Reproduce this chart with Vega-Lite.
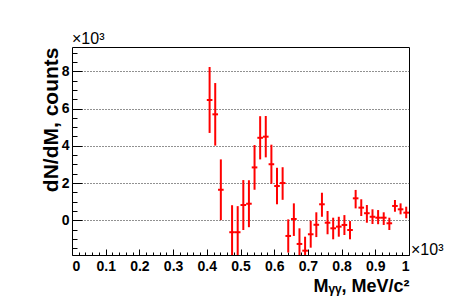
{
  "$schema": "https://vega.github.io/schema/vega-lite/v6.json",
  "width": 337,
  "height": 208,
  "autosize": {"type": "none"},
  "padding": {"left": 72, "top": 47, "right": 46, "bottom": 53},
  "background": "white",
  "config": {
    "view": {"stroke": "black", "strokeWidth": 1},
    "font": "Liberation Sans",
    "axis": {"domain": false, "tickColor": "black", "labelColor": "black", "titleColor": "black", "labelFont": "Liberation Sans", "titleFont": "Liberation Sans"}
  },
  "data": {"values": [
    {"m": 0.40833, "m_lo": 0.4, "m_hi": 0.41667, "n": 6.46, "n_lo": 4.69, "n_hi": 8.23},
    {"m": 0.425, "m_lo": 0.41667, "m_hi": 0.43333, "n": 5.69, "n_lo": 4.01, "n_hi": 7.37},
    {"m": 0.44167, "m_lo": 0.43333, "m_hi": 0.45, "n": 1.64, "n_lo": 0.01, "n_hi": 3.27},
    {"m": 0.475, "m_lo": 0.46667, "m_hi": 0.48333, "n": -0.64, "n_lo": -2.09, "n_hi": 0.81},
    {"m": 0.49167, "m_lo": 0.48333, "m_hi": 0.5, "n": -0.64, "n_lo": -2.04, "n_hi": 0.76},
    {"m": 0.50833, "m_lo": 0.5, "m_hi": 0.51667, "n": 0.82, "n_lo": -0.52, "n_hi": 2.16},
    {"m": 0.525, "m_lo": 0.51667, "m_hi": 0.53333, "n": 0.89, "n_lo": -0.37, "n_hi": 2.15},
    {"m": 0.54167, "m_lo": 0.53333, "m_hi": 0.55, "n": 2.84, "n_lo": 1.64, "n_hi": 4.04},
    {"m": 0.55833, "m_lo": 0.55, "m_hi": 0.56667, "n": 4.43, "n_lo": 3.27, "n_hi": 5.59},
    {"m": 0.575, "m_lo": 0.56667, "m_hi": 0.58333, "n": 4.49, "n_lo": 3.38, "n_hi": 5.6},
    {"m": 0.59167, "m_lo": 0.58333, "m_hi": 0.6, "n": 3.01, "n_lo": 1.96, "n_hi": 4.06},
    {"m": 0.60833, "m_lo": 0.6, "m_hi": 0.61667, "n": 1.84, "n_lo": 0.86, "n_hi": 2.82},
    {"m": 0.625, "m_lo": 0.61667, "m_hi": 0.63333, "n": 2.0, "n_lo": 1.1, "n_hi": 2.85},
    {"m": 0.64167, "m_lo": 0.63333, "m_hi": 0.65, "n": -0.84, "n_lo": -1.73, "n_hi": 0.05},
    {"m": 0.65833, "m_lo": 0.65, "m_hi": 0.66667, "n": 0.07, "n_lo": -0.84, "n_hi": 0.91},
    {"m": 0.675, "m_lo": 0.66667, "m_hi": 0.68333, "n": -1.27, "n_lo": -2.11, "n_hi": -0.43},
    {"m": 0.69167, "m_lo": 0.68333, "m_hi": 0.7, "n": -1.63, "n_lo": -2.38, "n_hi": -0.88},
    {"m": 0.70833, "m_lo": 0.7, "m_hi": 0.71667, "n": -0.75, "n_lo": -1.47, "n_hi": -0.02},
    {"m": 0.725, "m_lo": 0.71667, "m_hi": 0.73333, "n": -0.24, "n_lo": -0.9, "n_hi": 0.43},
    {"m": 0.74167, "m_lo": 0.73333, "m_hi": 0.75, "n": 0.86, "n_lo": 0.19, "n_hi": 1.48},
    {"m": 0.75833, "m_lo": 0.75, "m_hi": 0.76667, "n": -0.13, "n_lo": -0.75, "n_hi": 0.5},
    {"m": 0.775, "m_lo": 0.76667, "m_hi": 0.78333, "n": -0.43, "n_lo": -1.02, "n_hi": 0.14},
    {"m": 0.79167, "m_lo": 0.78333, "m_hi": 0.8, "n": -0.34, "n_lo": -0.88, "n_hi": 0.19},
    {"m": 0.80833, "m_lo": 0.8, "m_hi": 0.81667, "n": -0.25, "n_lo": -0.79, "n_hi": 0.28},
    {"m": 0.825, "m_lo": 0.81667, "m_hi": 0.83333, "n": -0.52, "n_lo": -1.02, "n_hi": -0.04},
    {"m": 0.84167, "m_lo": 0.83333, "m_hi": 0.85, "n": 1.18, "n_lo": 0.64, "n_hi": 1.63},
    {"m": 0.85833, "m_lo": 0.85, "m_hi": 0.86667, "n": 0.68, "n_lo": 0.23, "n_hi": 1.13},
    {"m": 0.875, "m_lo": 0.86667, "m_hi": 0.88333, "n": 0.38, "n_lo": -0.13, "n_hi": 0.82},
    {"m": 0.89167, "m_lo": 0.88333, "m_hi": 0.9, "n": 0.19, "n_lo": -0.2, "n_hi": 0.59},
    {"m": 0.90833, "m_lo": 0.9, "m_hi": 0.91667, "n": 0.14, "n_lo": -0.21, "n_hi": 0.55},
    {"m": 0.925, "m_lo": 0.91667, "m_hi": 0.93333, "n": 0.14, "n_lo": -0.25, "n_hi": 0.43},
    {"m": 0.94167, "m_lo": 0.93333, "m_hi": 0.95, "n": -0.16, "n_lo": -0.52, "n_hi": 0.14},
    {"m": 0.95833, "m_lo": 0.95, "m_hi": 0.96667, "n": 0.77, "n_lo": 0.46, "n_hi": 1.09},
    {"m": 0.975, "m_lo": 0.96667, "m_hi": 0.98333, "n": 0.59, "n_lo": 0.32, "n_hi": 0.91},
    {"m": 0.99167, "m_lo": 0.98333, "m_hi": 1.0, "n": 0.41, "n_lo": 0.11, "n_hi": 0.73}
  ]},
  "resolve": {"axis": {"x": "independent", "y": "independent"}},
  "layer": [
    {
      "mark": {"type": "rule", "color": "#ff0000", "strokeWidth": 2, "clip": true},
      "encoding": {
        "x": {"field": "m", "type": "quantitative",
          "scale": {"domain": [0, 1], "nice": false, "zero": false},
          "axis": {"orient": "bottom", "values": [0, 0.1, 0.2, 0.3, 0.4, 0.5, 0.6, 0.7, 0.8, 0.9, 1], "format": "~g",
            "tickSize": -6, "labelPadding": 10, "labelFontSize": 14, "labelFontWeight": "bold", "grid": false,
            "title": "Mᵧᵧ, MeV/c²", "titleFontSize": 18, "titleFontWeight": "bold", "titleAnchor": "end", "titlePadding": 4}},
        "y": {"field": "n_lo", "type": "quantitative",
          "scale": {"domain": [-1.863, 9.305], "nice": false, "zero": false},
          "axis": {"orient": "left", "values": [0, 2, 4, 6, 8], "format": "~g",
            "tickSize": -10, "labelPadding": 13, "labelFontSize": 14, "labelFontWeight": "bold",
            "grid": true, "gridColor": "#222", "gridDash": [1, 2], "gridWidth": 1,
            "title": "dN/dM, counts", "titleFontSize": 21, "titleFontWeight": "bold", "titleAnchor": "end",
            "titleBaseline": "alphabetic", "titleX": -15}},
        "y2": {"field": "n_hi"}
      }
    },
    {
      "mark": {"type": "rule", "color": "#ff0000", "strokeWidth": 2, "clip": true},
      "encoding": {
        "x": {"field": "m_lo", "type": "quantitative",
          "scale": {"domain": [0, 1], "nice": false, "zero": false},
          "axis": {"orient": "bottom", "values": [0.02, 0.04, 0.06, 0.08, 0.12, 0.14, 0.16, 0.18, 0.22, 0.24, 0.26, 0.28, 0.32, 0.34, 0.36, 0.38, 0.42, 0.44, 0.46, 0.48, 0.52, 0.54, 0.56, 0.58, 0.62, 0.64, 0.66, 0.68, 0.72, 0.74, 0.76, 0.78, 0.82, 0.84, 0.86, 0.88, 0.92, 0.94, 0.96, 0.98],
            "tickSize": -3, "labels": false, "grid": false, "title": null}},
        "x2": {"field": "m_hi"},
        "y": {"field": "n", "type": "quantitative",
          "scale": {"domain": [-1.863, 9.305], "nice": false, "zero": false},
          "axis": {"orient": "left", "values": [-1.5, -1, -0.5, 0.5, 1, 1.5, 2.5, 3, 3.5, 4.5, 5, 5.5, 6.5, 7, 7.5, 8.5, 9],
            "tickSize": -5, "labels": false, "grid": false, "title": null}}
      }
    },
    {
      "data": {"values": [{"label": "×10³"}]},
      "mark": {"type": "text", "align": "left", "baseline": "bottom", "fontSize": 16, "dy": 0, "color": "black"},
      "encoding": {
        "x": {"datum": 0, "type": "quantitative", "scale": {"domain": [0, 1], "nice": false, "zero": false}, "axis": null},
        "y": {"datum": 9.305, "type": "quantitative", "scale": {"domain": [-1.863, 9.305], "nice": false, "zero": false}, "axis": null},
        "text": {"field": "label"}
      }
    },
    {
      "data": {"values": [{"label": "×10³"}]},
      "mark": {"type": "text", "align": "left", "baseline": "alphabetic", "fontSize": 16, "dx": 2, "color": "black"},
      "encoding": {
        "x": {"datum": 1, "type": "quantitative", "scale": {"domain": [0, 1], "nice": false, "zero": false}, "axis": null},
        "y": {"datum": -1.863, "type": "quantitative", "scale": {"domain": [-1.863, 9.305], "nice": false, "zero": false}, "axis": null},
        "text": {"field": "label"}
      }
    }
  ]
}
